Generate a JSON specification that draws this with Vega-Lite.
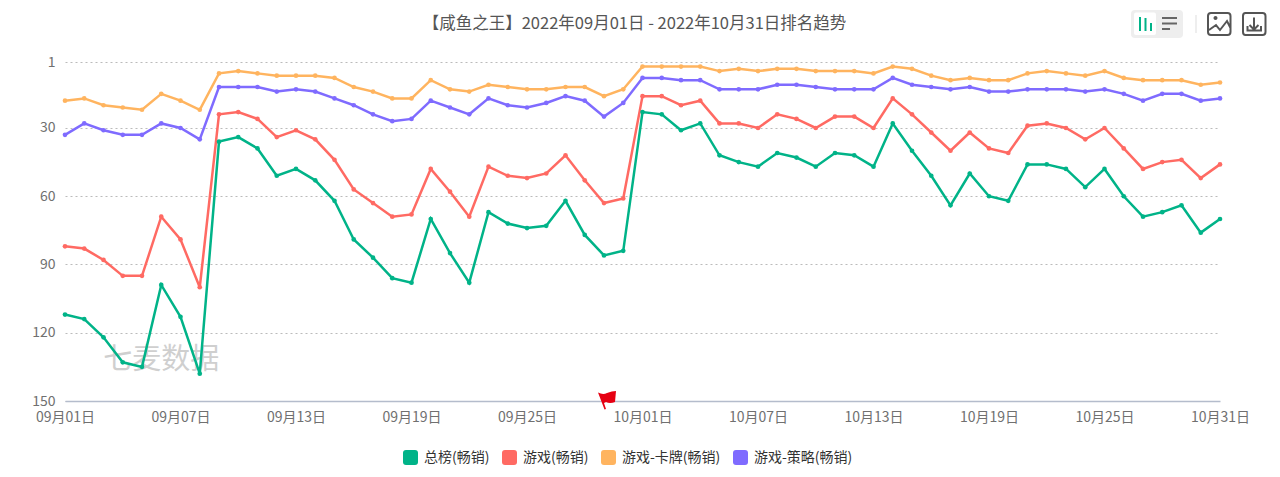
{
  "$schema": "https://vega.github.io/schema/vega-lite/v6.json",
  "description": "Rank trend of one game across four app store charts, Sep to Oct 2022.",
  "autosize": "none",
  "width": 1155,
  "height": 339,
  "padding": {"left": 65, "top": 62, "right": 60, "bottom": 76},
  "background": "white",
  "title": {
    "text": "【咸鱼之王】2022年09月01日 - 2022年10月31日排名趋势",
    "anchor": "middle",
    "dx": -8,
    "offset": -23,
    "font": "Noto Sans CJK SC",
    "fontSize": 16.5,
    "fontWeight": "normal",
    "color": "#555555"
  },
  "config": {
    "view": {"stroke": null},
    "font": "Noto Sans CJK SC"
  },
  "resolve": {"legend": {"color": "independent"}},
  "datasets": {
    "ranks": [
      {"date":"2022-09-01","总榜(畅销)":112,"游戏(畅销)":82,"游戏-卡牌(畅销)":18,"游戏-策略(畅销)":33},
      {"date":"2022-09-02","总榜(畅销)":114,"游戏(畅销)":83,"游戏-卡牌(畅销)":17,"游戏-策略(畅销)":28},
      {"date":"2022-09-03","总榜(畅销)":122,"游戏(畅销)":88,"游戏-卡牌(畅销)":20,"游戏-策略(畅销)":31},
      {"date":"2022-09-04","总榜(畅销)":133,"游戏(畅销)":95,"游戏-卡牌(畅销)":21,"游戏-策略(畅销)":33},
      {"date":"2022-09-05","总榜(畅销)":135,"游戏(畅销)":95,"游戏-卡牌(畅销)":22,"游戏-策略(畅销)":33},
      {"date":"2022-09-06","总榜(畅销)":99,"游戏(畅销)":69,"游戏-卡牌(畅销)":15,"游戏-策略(畅销)":28},
      {"date":"2022-09-07","总榜(畅销)":113,"游戏(畅销)":79,"游戏-卡牌(畅销)":18,"游戏-策略(畅销)":30},
      {"date":"2022-09-08","总榜(畅销)":138,"游戏(畅销)":100,"游戏-卡牌(畅销)":22,"游戏-策略(畅销)":35},
      {"date":"2022-09-09","总榜(畅销)":36,"游戏(畅销)":24,"游戏-卡牌(畅销)":6,"游戏-策略(畅销)":12},
      {"date":"2022-09-10","总榜(畅销)":34,"游戏(畅销)":23,"游戏-卡牌(畅销)":5,"游戏-策略(畅销)":12},
      {"date":"2022-09-11","总榜(畅销)":39,"游戏(畅销)":26,"游戏-卡牌(畅销)":6,"游戏-策略(畅销)":12},
      {"date":"2022-09-12","总榜(畅销)":51,"游戏(畅销)":34,"游戏-卡牌(畅销)":7,"游戏-策略(畅销)":14},
      {"date":"2022-09-13","总榜(畅销)":48,"游戏(畅销)":31,"游戏-卡牌(畅销)":7,"游戏-策略(畅销)":13},
      {"date":"2022-09-14","总榜(畅销)":53,"游戏(畅销)":35,"游戏-卡牌(畅销)":7,"游戏-策略(畅销)":14},
      {"date":"2022-09-15","总榜(畅销)":62,"游戏(畅销)":44,"游戏-卡牌(畅销)":8,"游戏-策略(畅销)":17},
      {"date":"2022-09-16","总榜(畅销)":79,"游戏(畅销)":57,"游戏-卡牌(畅销)":12,"游戏-策略(畅销)":20},
      {"date":"2022-09-17","总榜(畅销)":87,"游戏(畅销)":63,"游戏-卡牌(畅销)":14,"游戏-策略(畅销)":24},
      {"date":"2022-09-18","总榜(畅销)":96,"游戏(畅销)":69,"游戏-卡牌(畅销)":17,"游戏-策略(畅销)":27},
      {"date":"2022-09-19","总榜(畅销)":98,"游戏(畅销)":68,"游戏-卡牌(畅销)":17,"游戏-策略(畅销)":26},
      {"date":"2022-09-20","总榜(畅销)":70,"游戏(畅销)":48,"游戏-卡牌(畅销)":9,"游戏-策略(畅销)":18},
      {"date":"2022-09-21","总榜(畅销)":85,"游戏(畅销)":58,"游戏-卡牌(畅销)":13,"游戏-策略(畅销)":21},
      {"date":"2022-09-22","总榜(畅销)":98,"游戏(畅销)":69,"游戏-卡牌(畅销)":14,"游戏-策略(畅销)":24},
      {"date":"2022-09-23","总榜(畅销)":67,"游戏(畅销)":47,"游戏-卡牌(畅销)":11,"游戏-策略(畅销)":17},
      {"date":"2022-09-24","总榜(畅销)":72,"游戏(畅销)":51,"游戏-卡牌(畅销)":12,"游戏-策略(畅销)":20},
      {"date":"2022-09-25","总榜(畅销)":74,"游戏(畅销)":52,"游戏-卡牌(畅销)":13,"游戏-策略(畅销)":21},
      {"date":"2022-09-26","总榜(畅销)":73,"游戏(畅销)":50,"游戏-卡牌(畅销)":13,"游戏-策略(畅销)":19},
      {"date":"2022-09-27","总榜(畅销)":62,"游戏(畅销)":42,"游戏-卡牌(畅销)":12,"游戏-策略(畅销)":16},
      {"date":"2022-09-28","总榜(畅销)":77,"游戏(畅销)":53,"游戏-卡牌(畅销)":12,"游戏-策略(畅销)":18},
      {"date":"2022-09-29","总榜(畅销)":86,"游戏(畅销)":63,"游戏-卡牌(畅销)":16,"游戏-策略(畅销)":25},
      {"date":"2022-09-30","总榜(畅销)":84,"游戏(畅销)":61,"游戏-卡牌(畅销)":13,"游戏-策略(畅销)":19},
      {"date":"2022-10-01","总榜(畅销)":23,"游戏(畅销)":16,"游戏-卡牌(畅销)":3,"游戏-策略(畅销)":8},
      {"date":"2022-10-02","总榜(畅销)":24,"游戏(畅销)":16,"游戏-卡牌(畅销)":3,"游戏-策略(畅销)":8},
      {"date":"2022-10-03","总榜(畅销)":31,"游戏(畅销)":20,"游戏-卡牌(畅销)":3,"游戏-策略(畅销)":9},
      {"date":"2022-10-04","总榜(畅销)":28,"游戏(畅销)":18,"游戏-卡牌(畅销)":3,"游戏-策略(畅销)":9},
      {"date":"2022-10-05","总榜(畅销)":42,"游戏(畅销)":28,"游戏-卡牌(畅销)":5,"游戏-策略(畅销)":13},
      {"date":"2022-10-06","总榜(畅销)":45,"游戏(畅销)":28,"游戏-卡牌(畅销)":4,"游戏-策略(畅销)":13},
      {"date":"2022-10-07","总榜(畅销)":47,"游戏(畅销)":30,"游戏-卡牌(畅销)":5,"游戏-策略(畅销)":13},
      {"date":"2022-10-08","总榜(畅销)":41,"游戏(畅销)":24,"游戏-卡牌(畅销)":4,"游戏-策略(畅销)":11},
      {"date":"2022-10-09","总榜(畅销)":43,"游戏(畅销)":26,"游戏-卡牌(畅销)":4,"游戏-策略(畅销)":11},
      {"date":"2022-10-10","总榜(畅销)":47,"游戏(畅销)":30,"游戏-卡牌(畅销)":5,"游戏-策略(畅销)":12},
      {"date":"2022-10-11","总榜(畅销)":41,"游戏(畅销)":25,"游戏-卡牌(畅销)":5,"游戏-策略(畅销)":13},
      {"date":"2022-10-12","总榜(畅销)":42,"游戏(畅销)":25,"游戏-卡牌(畅销)":5,"游戏-策略(畅销)":13},
      {"date":"2022-10-13","总榜(畅销)":47,"游戏(畅销)":30,"游戏-卡牌(畅销)":6,"游戏-策略(畅销)":13},
      {"date":"2022-10-14","总榜(畅销)":28,"游戏(畅销)":17,"游戏-卡牌(畅销)":3,"游戏-策略(畅销)":8},
      {"date":"2022-10-15","总榜(畅销)":40,"游戏(畅销)":24,"游戏-卡牌(畅销)":4,"游戏-策略(畅销)":11},
      {"date":"2022-10-16","总榜(畅销)":51,"游戏(畅销)":32,"游戏-卡牌(畅销)":7,"游戏-策略(畅销)":12},
      {"date":"2022-10-17","总榜(畅销)":64,"游戏(畅销)":40,"游戏-卡牌(畅销)":9,"游戏-策略(畅销)":13},
      {"date":"2022-10-18","总榜(畅销)":50,"游戏(畅销)":32,"游戏-卡牌(畅销)":8,"游戏-策略(畅销)":12},
      {"date":"2022-10-19","总榜(畅销)":60,"游戏(畅销)":39,"游戏-卡牌(畅销)":9,"游戏-策略(畅销)":14},
      {"date":"2022-10-20","总榜(畅销)":62,"游戏(畅销)":41,"游戏-卡牌(畅销)":9,"游戏-策略(畅销)":14},
      {"date":"2022-10-21","总榜(畅销)":46,"游戏(畅销)":29,"游戏-卡牌(畅销)":6,"游戏-策略(畅销)":13},
      {"date":"2022-10-22","总榜(畅销)":46,"游戏(畅销)":28,"游戏-卡牌(畅销)":5,"游戏-策略(畅销)":13},
      {"date":"2022-10-23","总榜(畅销)":48,"游戏(畅销)":30,"游戏-卡牌(畅销)":6,"游戏-策略(畅销)":13},
      {"date":"2022-10-24","总榜(畅销)":56,"游戏(畅销)":35,"游戏-卡牌(畅销)":7,"游戏-策略(畅销)":14},
      {"date":"2022-10-25","总榜(畅销)":48,"游戏(畅销)":30,"游戏-卡牌(畅销)":5,"游戏-策略(畅销)":13},
      {"date":"2022-10-26","总榜(畅销)":60,"游戏(畅销)":39,"游戏-卡牌(畅销)":8,"游戏-策略(畅销)":15},
      {"date":"2022-10-27","总榜(畅销)":69,"游戏(畅销)":48,"游戏-卡牌(畅销)":9,"游戏-策略(畅销)":18},
      {"date":"2022-10-28","总榜(畅销)":67,"游戏(畅销)":45,"游戏-卡牌(畅销)":9,"游戏-策略(畅销)":15},
      {"date":"2022-10-29","总榜(畅销)":64,"游戏(畅销)":44,"游戏-卡牌(畅销)":9,"游戏-策略(畅销)":15},
      {"date":"2022-10-30","总榜(畅销)":76,"游戏(畅销)":52,"游戏-卡牌(畅销)":11,"游戏-策略(畅销)":18},
      {"date":"2022-10-31","总榜(畅销)":70,"游戏(畅销)":46,"游戏-卡牌(畅销)":10,"游戏-策略(畅销)":17}
    ],
    "watermark": [{"date": "2022-09-06", "rank": 132, "label": "七麦数据"}],
    "flag": [{"date": "2022-09-29", "rank": 150}],
    "toolbar": [{"date": "2022-10-31", "rank": -15.7}]
  },
  "encoding": {
    "x": {
      "field": "date",
      "type": "temporal",
      "scale": {"type": "utc", "domain": ["2022-09-01", "2022-10-31"], "nice": false},
      "axis": {
        "title": null,
        "format": "%m月%d日",
        "tickCount": {"interval": "day", "step": 6},
        "ticks": false,
        "grid": false,
        "labelAngle": 0,
        "labelFontSize": 14,
        "labelColor": "#707070",
        "labelPadding": 9,
        "labelOverlap": false,
        "labelFlush": false,
        "labelBound": false,
        "domainColor": "#b4bccc",
        "domainWidth": 1.5
      }
    },
    "y": {
      "field": "rank",
      "type": "quantitative",
      "scale": {"domain": [1, 150], "reverse": true, "nice": false, "zero": false},
      "axis": {
        "title": null,
        "values": [1, 30, 60, 90, 120, 150],
        "domain": false,
        "ticks": false,
        "labelFontSize": 14,
        "labelColor": "#707070",
        "labelPadding": 10,
        "gridColor": "#bbbbbb",
        "gridDash": [2, 3],
        "gridWidth": 1
      }
    }
  },
  "layer": [
    {
      "data": {"name": "watermark"},
      "mark": {"type": "text", "fontSize": 29, "color": "#cfcfcf", "align": "center", "baseline": "middle"},
      "encoding": {"text": {"field": "label"}}
    },
    {
      "data": {"name": "ranks"},
      "transform": [{"fold": ["总榜(畅销)", "游戏(畅销)", "游戏-卡牌(畅销)", "游戏-策略(畅销)"], "as": ["series", "rank"]}],
      "mark": {"type": "line", "strokeWidth": 2.5},
      "encoding": {
        "color": {
          "field": "series",
          "type": "nominal",
          "scale": {
            "domain": ["总榜(畅销)", "游戏(畅销)", "游戏-卡牌(畅销)", "游戏-策略(畅销)"],
            "range": ["#00b388", "#ff6a63", "#ffb45f", "#7f6bff"]
          },
          "legend": null
        }
      }
    },
    {
      "data": {"name": "ranks"},
      "transform": [{"fold": ["总榜(畅销)", "游戏(畅销)", "游戏-卡牌(畅销)", "游戏-策略(畅销)"], "as": ["series", "rank"]}],
      "mark": {"type": "point", "filled": true, "size": 22, "opacity": 1},
      "encoding": {
        "color": {
          "field": "series",
          "type": "nominal",
          "legend": {
            "title": null,
            "orient": "none",
            "legendX": 338,
            "legendY": 388,
            "direction": "horizontal",
            "symbolType": "M-0.6,-1H0.6Q1,-1 1,-0.6V0.6Q1,1 0.6,1H-0.6Q-1,1 -1,0.6V-0.6Q-1,-1 -0.6,-1Z",
            "symbolSize": 225,
            "symbolStrokeWidth": 0,
            "symbolOpacity": 1,
            "labelFontSize": 14,
            "labelColor": "#333333",
            "labelOffset": 6,
            "columnPadding": 12
          }
        }
      }
    },
    {
      "data": {"name": "flag"},
      "mark": {
        "type": "point",
        "filled": true,
        "opacity": 1,
        "size": 4,
        "color": "#e60012",
        "shape": "M-6,-8.5Q-1,-6 3,-8Q8,-10 12,-10L11,1Q6,3 2,1L0,2L2,8L0.5,8.5Z"
      }
    },
    {
      "data": {"name": "toolbar"},
      "mark": {
        "type": "point",
        "filled": true,
        "opacity": 1,
        "size": 4,
        "color": "#eeeeee",
        "shape": "M-85,-14H-41Q-37,-14 -37,-10V10Q-37,14 -41,14H-85Q-89,14 -89,10V-10Q-89,-14 -85,-14Z"
      }
    },
    {
      "data": {"name": "toolbar"},
      "mark": {
        "type": "point",
        "filled": true,
        "opacity": 1,
        "size": 4,
        "color": "#ffffff",
        "shape": "M-84,-11.5H-66Q-64,-11.5 -64,-9.5V9Q-64,11 -66,11H-84Q-86,11 -86,9V-9.5Q-86,-11.5 -84,-11.5Z"
      }
    },
    {
      "data": {"name": "toolbar"},
      "mark": {
        "type": "point",
        "filled": true,
        "opacity": 1,
        "size": 4,
        "color": "#00b388",
        "shape": "M-81,-7H-79V7H-81ZM-75.5,-6H-73.5V7H-75.5ZM-70,-1H-68V7H-70Z"
      }
    },
    {
      "data": {"name": "toolbar"},
      "mark": {
        "type": "point",
        "filled": true,
        "opacity": 1,
        "size": 4,
        "color": "#666666",
        "shape": "M-58,-7H-43V-5H-58ZM-58,-1.5H-43V0.5H-58ZM-58,4H-50V6H-58Z"
      }
    },
    {
      "data": {"name": "toolbar"},
      "mark": {
        "type": "point",
        "filled": true,
        "opacity": 1,
        "size": 4,
        "color": "#dddddd",
        "shape": "M-24.5,-9H-23.5V9H-24.5Z"
      }
    },
    {
      "data": {"name": "toolbar"},
      "mark": {
        "type": "point",
        "filled": false,
        "opacity": 1,
        "size": 4,
        "strokeWidth": 2,
        "color": "#555555",
        "shape": "M-9,-11H7.5Q10.5,-11 10.5,-8V8Q10.5,11 7.5,11H-9Q-12,11 -12,8V-8Q-12,-11 -9,-11ZM-11,6L-4,1L0,6L7,-3L10.5,4M25.5,-11H42.5Q45.5,-11 45.5,-8V8Q45.5,11 42.5,11H25.5Q23,11 23,8V-8Q23,-11 25.5,-11ZM34,-6.5V5M29.5,1L34,5.5L38.5,1M27.5,2V6.5H41V2"
      }
    },
    {
      "data": {"name": "toolbar"},
      "mark": {
        "type": "point",
        "filled": true,
        "opacity": 1,
        "size": 4,
        "color": "#555555",
        "shape": "M-6.5,-6A2,2 0 1 1 -2.5,-6A2,2 0 1 1 -6.5,-6Z"
      }
    }
  ]
}
